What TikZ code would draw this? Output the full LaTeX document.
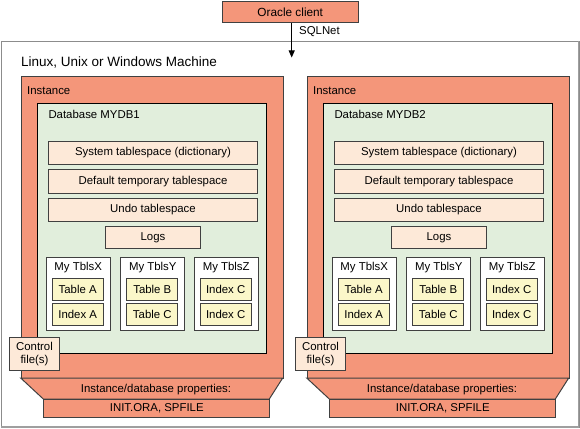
\documentclass[tikz,border=0pt]{standalone}
\usepackage{fontspec}
\setmainfont{Liberation Sans}
\usetikzlibrary{arrows.meta}
\definecolor{salmon}{HTML}{F4967A}
\definecolor{dbgreen}{HTML}{E1EEDC}
\definecolor{peach}{HTML}{FDE9D8}
\definecolor{ylw}{HTML}{FBF7C9}
\definecolor{edge}{HTML}{404040}
\tikzset{
  px/.style={x=1pt,y=-1pt},
  bx/.style={draw=edge,line width=1pt,inner sep=0pt,anchor=north west,font=\fontsize{11.4}{13}\selectfont},
  instbox/.style={bx,fill=salmon},
  dbbox/.style={bx,draw=black,fill=dbgreen},
  tsbox/.style={bx,fill=peach},
  grpbox/.style={bx,fill=white},
  ylwbox/.style={bx,fill=ylw},
  lbl/.style={inner sep=0pt,anchor=west,font=\fontsize{11.4}{13}\selectfont},
}
\begin{document}
\begin{tikzpicture}[px]
\useasboundingbox (0,0) rectangle (580,428);
% outer machine box
\node[draw=gray!90,line width=0.8pt,inner sep=0pt,anchor=north west,minimum width=578pt,minimum height=385.5pt] (machine) at (1,41) {};
\draw[gray!75,line width=2.2pt] (1,426.6) -- (579.2,426.6);
\draw[gray!75,line width=1.4pt] (578.6,41) -- (578.6,427);
\node[lbl,font=\fontsize{13.5}{15}\selectfont] (mtitle) at (21,62) {Linux, Unix or Windows Machine};
% oracle client
\node[instbox,minimum width=135.5pt,minimum height=21.5pt] (client) at (222,1) {\fontsize{11.8}{13}\selectfont Oracle client};
\coordinate (arrowend) at (291.7,57.5);
\draw[line width=0.8pt,-{Triangle[length=7pt,width=6pt]}] (client.south -| arrowend) -- (arrowend);
\node[lbl] (sqlnet) at (299,32) {SQLNet};
\foreach \i/\dx in {1/0,2/286}{
\begin{scope}[xshift=\dx pt]
  \node[instbox,minimum width=262pt,minimum height=302pt] (inst\i) at (20.7,76) {};
  \draw[draw=edge,line width=1pt,fill=salmon] (20.7,378) -- (282.7,378) -- (269.3,399) -- (43.3,399) -- cycle;
  \node[instbox,minimum width=226pt,minimum height=17.7pt] (init\i) at (43.3,399) {INIT.ORA, SPFILE};
  \node[inner sep=0pt,font=\fontsize{11.4}{13}\selectfont] (props\i) at (156,389.5) {Instance/database properties:};
  \node[lbl] (instlbl\i) at (27,90.5) {Instance};
  \node[dbbox,minimum width=228.4pt,minimum height=250.6pt] (db\i) at (37.3,102.7) {};
  \node[lbl] (dblbl\i) at (48.3,114.5) {Database MYDB\i};
  \node[tsbox,minimum width=208.4pt,minimum height=23.6pt] (sys\i) at (48.3,140.7) {System tablespace (dictionary)};
  \node[tsbox,minimum width=208.4pt,minimum height=23.4pt] (temp\i) at (48.3,169.3) {Default temporary tablespace};
  \node[tsbox,minimum width=208.4pt,minimum height=23.3pt] (undo\i) at (48.3,197.7) {Undo tablespace};
  \node[tsbox,minimum width=95.6pt,minimum height=22pt] (logs\i) at (104.7,226.3) {Logs};
  \foreach \g/\gx/\ta/\tb in {X/45.7/Table A/Index A,Y/120.3/Table B/Table C,Z/193.7/Index C/Index C}{
    \node[grpbox,minimum width=64pt,minimum height=72.7pt] (grp\g\i) at (\gx,257.3) {};
    \node[inner sep=0pt,font=\fontsize{11.4}{13}\selectfont] (grplbl\g\i) at ([yshift=-10pt]grp\g\i.north) {My Tbls\g};
    \node[ylwbox,minimum width=51pt,minimum height=22pt] (ta\g\i) at (\gx+6,277.7) {\ta};
    \node[ylwbox,minimum width=51pt,minimum height=22pt] (tb\g\i) at (\gx+6,303.3) {\tb};
  }
  \node[tsbox,minimum width=49.4pt,minimum height=33.3pt,align=center,font=\fontsize{11.4}{12.5}\selectfont] (ctl\i) at (9.3,336.7) {Control\\file(s)};
\end{scope}
}
\end{tikzpicture}
\end{document}
